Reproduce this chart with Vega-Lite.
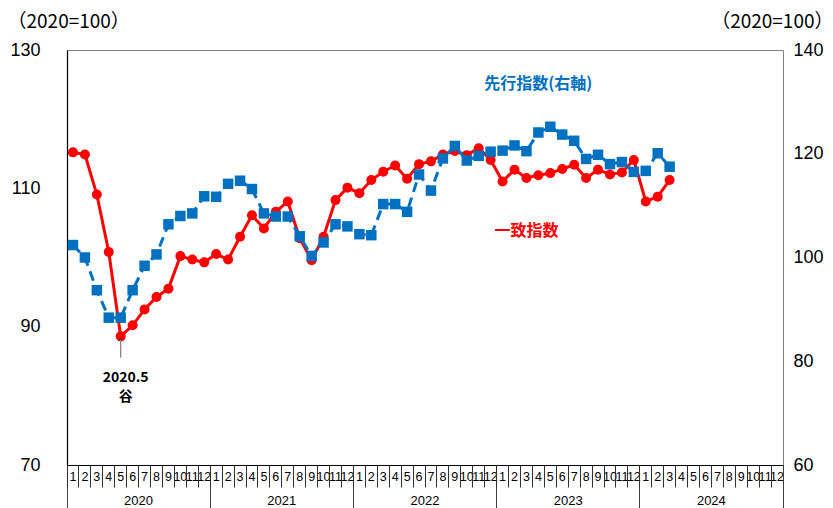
{
  "$schema": "https://vega.github.io/schema/vega-lite/v6.json",
  "width": 716,
  "height": 415,
  "autosize": "none",
  "padding": {"left": 67, "top": 50, "right": 50, "bottom": 43},
  "background": "white",
  "config": {
    "view": {"stroke": "#808080", "strokeWidth": 1},
    "axis": {"grid": false, "labelFont": "Liberation Sans", "labelColor": "#000000"},
    "scale": {"bandPaddingInner": 0, "bandPaddingOuter": 0}
  },
  "datasets": {
    "idx": [
      {"ym": "2020-01", "ci": 115.2, "li": 102.4},
      {"ym": "2020-02", "ci": 114.9, "li": 100.0},
      {"ym": "2020-03", "ci": 109.1, "li": 93.7},
      {"ym": "2020-04", "ci": 100.8, "li": 88.4},
      {"ym": "2020-05", "ci": 88.6, "li": 88.4},
      {"ym": "2020-06", "ci": 90.2, "li": 93.7},
      {"ym": "2020-07", "ci": 92.5, "li": 98.4},
      {"ym": "2020-08", "ci": 94.3, "li": 100.6},
      {"ym": "2020-09", "ci": 95.5, "li": 106.4},
      {"ym": "2020-10", "ci": 100.2, "li": 108.0},
      {"ym": "2020-11", "ci": 99.7, "li": 108.5},
      {"ym": "2020-12", "ci": 99.3, "li": 111.8},
      {"ym": "2021-01", "ci": 100.5, "li": 111.7},
      {"ym": "2021-02", "ci": 99.7, "li": 114.2},
      {"ym": "2021-03", "ci": 103.0, "li": 114.8},
      {"ym": "2021-04", "ci": 106.1, "li": 113.2},
      {"ym": "2021-05", "ci": 104.2, "li": 108.5},
      {"ym": "2021-06", "ci": 106.6, "li": 107.9},
      {"ym": "2021-07", "ci": 108.1, "li": 107.9},
      {"ym": "2021-08", "ci": 102.8, "li": 104.1},
      {"ym": "2021-09", "ci": 99.6, "li": 100.3},
      {"ym": "2021-10", "ci": 103.0, "li": 102.9},
      {"ym": "2021-11", "ci": 108.3, "li": 106.4},
      {"ym": "2021-12", "ci": 110.1, "li": 106.0},
      {"ym": "2022-01", "ci": 109.3, "li": 104.5},
      {"ym": "2022-02", "ci": 111.2, "li": 104.3},
      {"ym": "2022-03", "ci": 112.4, "li": 110.3},
      {"ym": "2022-04", "ci": 113.3, "li": 110.3},
      {"ym": "2022-05", "ci": 111.4, "li": 108.8},
      {"ym": "2022-06", "ci": 113.5, "li": 116.0},
      {"ym": "2022-07", "ci": 113.9, "li": 112.9},
      {"ym": "2022-08", "ci": 114.9, "li": 119.1},
      {"ym": "2022-09", "ci": 115.4, "li": 121.5},
      {"ym": "2022-10", "ci": 114.8, "li": 118.7},
      {"ym": "2022-11", "ci": 115.8, "li": 119.6},
      {"ym": "2022-12", "ci": 114.1, "li": 120.4},
      {"ym": "2023-01", "ci": 111.0, "li": 120.6},
      {"ym": "2023-02", "ci": 112.7, "li": 121.6},
      {"ym": "2023-03", "ci": 111.5, "li": 120.5},
      {"ym": "2023-04", "ci": 111.9, "li": 124.1},
      {"ym": "2023-05", "ci": 112.2, "li": 125.2},
      {"ym": "2023-06", "ci": 112.8, "li": 123.7},
      {"ym": "2023-07", "ci": 113.4, "li": 122.5},
      {"ym": "2023-08", "ci": 111.5, "li": 119.0},
      {"ym": "2023-09", "ci": 112.7, "li": 119.8},
      {"ym": "2023-10", "ci": 112.0, "li": 118.0},
      {"ym": "2023-11", "ci": 112.3, "li": 118.4},
      {"ym": "2023-12", "ci": 114.1, "li": 116.5},
      {"ym": "2024-01", "ci": 108.1, "li": 116.7},
      {"ym": "2024-02", "ci": 108.8, "li": 120.1},
      {"ym": "2024-03", "ci": 111.2, "li": 117.5}
    ]
  },
  "resolve": {"scale": {"y": "independent"}, "axis": {"x": "independent", "y": "independent"}},
  "layer": [
    {
      "data": {"name": "idx"},
      "mark": {"type": "line", "color": "#FF0000", "strokeWidth": 3},
      "encoding": {
        "x": {
          "field": "ym", "type": "ordinal",
          "scale": {
            "type": "band", "paddingInner": 0, "paddingOuter": 0,
            "domain": ["2020-01","2020-02","2020-03","2020-04","2020-05","2020-06","2020-07","2020-08","2020-09","2020-10","2020-11","2020-12",
                       "2021-01","2021-02","2021-03","2021-04","2021-05","2021-06","2021-07","2021-08","2021-09","2021-10","2021-11","2021-12",
                       "2022-01","2022-02","2022-03","2022-04","2022-05","2022-06","2022-07","2022-08","2022-09","2022-10","2022-11","2022-12",
                       "2023-01","2023-02","2023-03","2023-04","2023-05","2023-06","2023-07","2023-08","2023-09","2023-10","2023-11","2023-12",
                       "2024-01","2024-02","2024-03","2024-04","2024-05","2024-06","2024-07","2024-08","2024-09","2024-10","2024-11","2024-12"]
          },
          "axis": {
            "orient": "bottom", "title": null,
            "domain": true, "domainColor": "#000000", "domainWidth": 1.2,
            "ticks": false, "tickSize": 0,
            "labelExpr": "toNumber(slice(datum.value, 5))",
            "labelAlign": "center", "labelBaseline": "middle", "labelOffset": 0, "labelPadding": 11,
            "labelFontSize": 12.5, "labelAngle": 0, "labelOverlap": false, "labelBound": false, "labelFlush": false
          }
        },
        "y": {
          "field": "ci", "type": "quantitative",
          "scale": {"domain": [70, 130], "nice": false, "zero": false},
          "axis": {
            "orient": "left", "values": [70, 90, 110, 130],
            "domain": true, "domainColor": "#000000", "domainWidth": 1.2,
            "ticks": false, "tickSize": 0, "labelPadding": 27, "labelAlign": "right", "labelBaseline": "middle",
            "labelFontSize": 18,
            "title": "（2020=100）", "titleAngle": 0, "titleAlign": "left", "titleBaseline": "middle",
            "titleX": -60, "titleY": -29, "titleFont": "Noto Sans CJK JP", "titleFontSize": 19,
            "titleFontWeight": "normal", "titleColor": "#000000"
          }
        }
      }
    },
    {
      "data": {"name": "idx"},
      "mark": {"type": "point", "shape": "circle", "filled": true, "size": 100, "color": "#FF0000", "opacity": 1},
      "encoding": {
        "x": {
          "field": "ym", "type": "ordinal", "scale": {"type": "band"},
          "axis": {
            "orient": "bottom", "title": null, "bandPosition": 0, "domain": false,
            "values": ["2020-01", "2021-01", "2022-01", "2023-01", "2024-01"],
            "ticks": true, "tickSize": 43, "tickColor": "#404040", "tickWidth": 1,
            "labelExpr": "slice(datum.value, 0, 4)",
            "labelAlign": "center", "labelBaseline": "middle", "labelOffset": 65.6, "labelPadding": -8,
            "labelFontSize": 13, "labelAngle": 0, "labelOverlap": false, "labelBound": false, "labelFlush": false
          }
        },
        "y": {"field": "ci", "type": "quantitative", "scale": {"domain": [70, 130], "nice": false, "zero": false}, "axis": null}
      }
    },
    {
      "data": {"name": "idx"},
      "mark": {"type": "line", "color": "#0070C0", "strokeWidth": 3, "strokeDash": [10, 6]},
      "encoding": {
        "x": {
          "field": "ym", "type": "ordinal", "scale": {"type": "band"},
          "axis": {
            "orient": "bottom", "title": null, "bandPosition": 1, "domain": false,
            "values": ["2024-12"], "labels": false,
            "ticks": true, "tickSize": 43, "tickColor": "#404040", "tickWidth": 1
          }
        },
        "y": {
          "field": "li", "type": "quantitative",
          "scale": {"domain": [60, 140], "nice": false, "zero": false},
          "axis": {
            "orient": "right", "values": [60, 80, 100, 120, 140],
            "domain": false, "ticks": false, "tickSize": 0, "labelPadding": 10, "labelAlign": "left", "labelBaseline": "middle",
            "labelFontSize": 18,
            "title": "（2020=100）", "titleAngle": 0, "titleAlign": "right", "titleBaseline": "middle",
            "titleX": 50, "titleY": -29, "titleFont": "Noto Sans CJK JP", "titleFontSize": 19,
            "titleFontWeight": "normal", "titleColor": "#000000"
          }
        }
      }
    },
    {
      "data": {"name": "idx"},
      "mark": {"type": "point", "shape": "square", "filled": true, "size": 110, "color": "#0070C0", "opacity": 1},
      "encoding": {
        "x": {
          "field": "ym", "type": "ordinal", "scale": {"type": "band"},
          "axis": {
            "orient": "bottom", "title": null, "bandPosition": 0, "domain": false, "labels": false,
            "values": ["2020-01","2020-02","2020-03","2020-04","2020-05","2020-06","2020-07","2020-08","2020-09","2020-10","2020-11","2020-12",
                       "2021-01","2021-02","2021-03","2021-04","2021-05","2021-06","2021-07","2021-08","2021-09","2021-10","2021-11","2021-12",
                       "2022-01","2022-02","2022-03","2022-04","2022-05","2022-06","2022-07","2022-08","2022-09","2022-10","2022-11","2022-12",
                       "2023-01","2023-02","2023-03","2023-04","2023-05","2023-06","2023-07","2023-08","2023-09","2023-10","2023-11","2023-12",
                       "2024-01","2024-02","2024-03","2024-04","2024-05","2024-06","2024-07","2024-08","2024-09","2024-10","2024-11","2024-12"],
            "ticks": true, "tickSize": 22, "tickColor": "#303030", "tickWidth": 1
          }
        },
        "y": {"field": "li", "type": "quantitative", "scale": {"domain": [60, 140], "nice": false, "zero": false}, "axis": null}
      }
    },
    {
      "data": {"values": [{"ym": "2020-05", "from": 85.5, "to": 88.1}]},
      "mark": {"type": "rule", "color": "#9a7a7a", "strokeWidth": 1.3},
      "encoding": {
        "x": {"field": "ym", "type": "ordinal", "scale": {"type": "band"}, "axis": null},
        "y": {"field": "from", "type": "quantitative", "scale": {"domain": [70, 130], "nice": false, "zero": false}, "axis": null},
        "y2": {"field": "to"}
      }
    },
    {
      "data": {"values": [{"ym": "2020-05", "v": 88.3}]},
      "mark": {"type": "point", "shape": "M-1,1L0,0L1,1", "filled": false, "size": 30, "color": "#503030", "strokeWidth": 1, "opacity": 1},
      "encoding": {
        "x": {"field": "ym", "type": "ordinal", "scale": {"type": "band"}, "axis": null},
        "y": {"field": "v", "type": "quantitative", "scale": {"domain": [70, 130], "nice": false, "zero": false}, "axis": null}
      }
    },
    {
      "data": {"values": [{"ym": "2020-05", "v": 82.6, "label": "2020.5"}, {"ym": "2020-05", "v": 79.8, "label": "谷"}]},
      "mark": {"type": "text", "font": "Noto Sans CJK JP", "fontSize": 14, "fontWeight": "bold", "color": "#000000", "align": "center", "baseline": "middle", "dx": 5},
      "encoding": {
        "x": {"field": "ym", "type": "ordinal", "scale": {"type": "band"}, "axis": null},
        "y": {"field": "v", "type": "quantitative", "scale": {"domain": [70, 130], "nice": false, "zero": false}, "axis": null},
        "text": {"field": "label"}
      }
    },
    {
      "data": {"values": [{"ym": "2023-03", "v": 103.8, "label": "一致指数"}]},
      "mark": {"type": "text", "font": "Noto Sans CJK JP", "fontSize": 16, "fontWeight": "bold", "color": "#FF0000", "align": "center", "baseline": "middle"},
      "encoding": {
        "x": {"field": "ym", "type": "ordinal", "scale": {"type": "band"}, "axis": null},
        "y": {"field": "v", "type": "quantitative", "scale": {"domain": [70, 130], "nice": false, "zero": false}, "axis": null},
        "text": {"field": "label"}
      }
    },
    {
      "data": {"values": [{"ym": "2023-04", "v": 133.4, "label": "先行指数(右軸)"}]},
      "mark": {"type": "text", "font": "Noto Sans CJK JP", "fontSize": 16, "fontWeight": "bold", "color": "#0070C0", "align": "center", "baseline": "middle"},
      "encoding": {
        "x": {"field": "ym", "type": "ordinal", "scale": {"type": "band"}, "axis": null},
        "y": {"field": "v", "type": "quantitative", "scale": {"domain": [60, 140], "nice": false, "zero": false}, "axis": null},
        "text": {"field": "label"}
      }
    }
  ]
}
